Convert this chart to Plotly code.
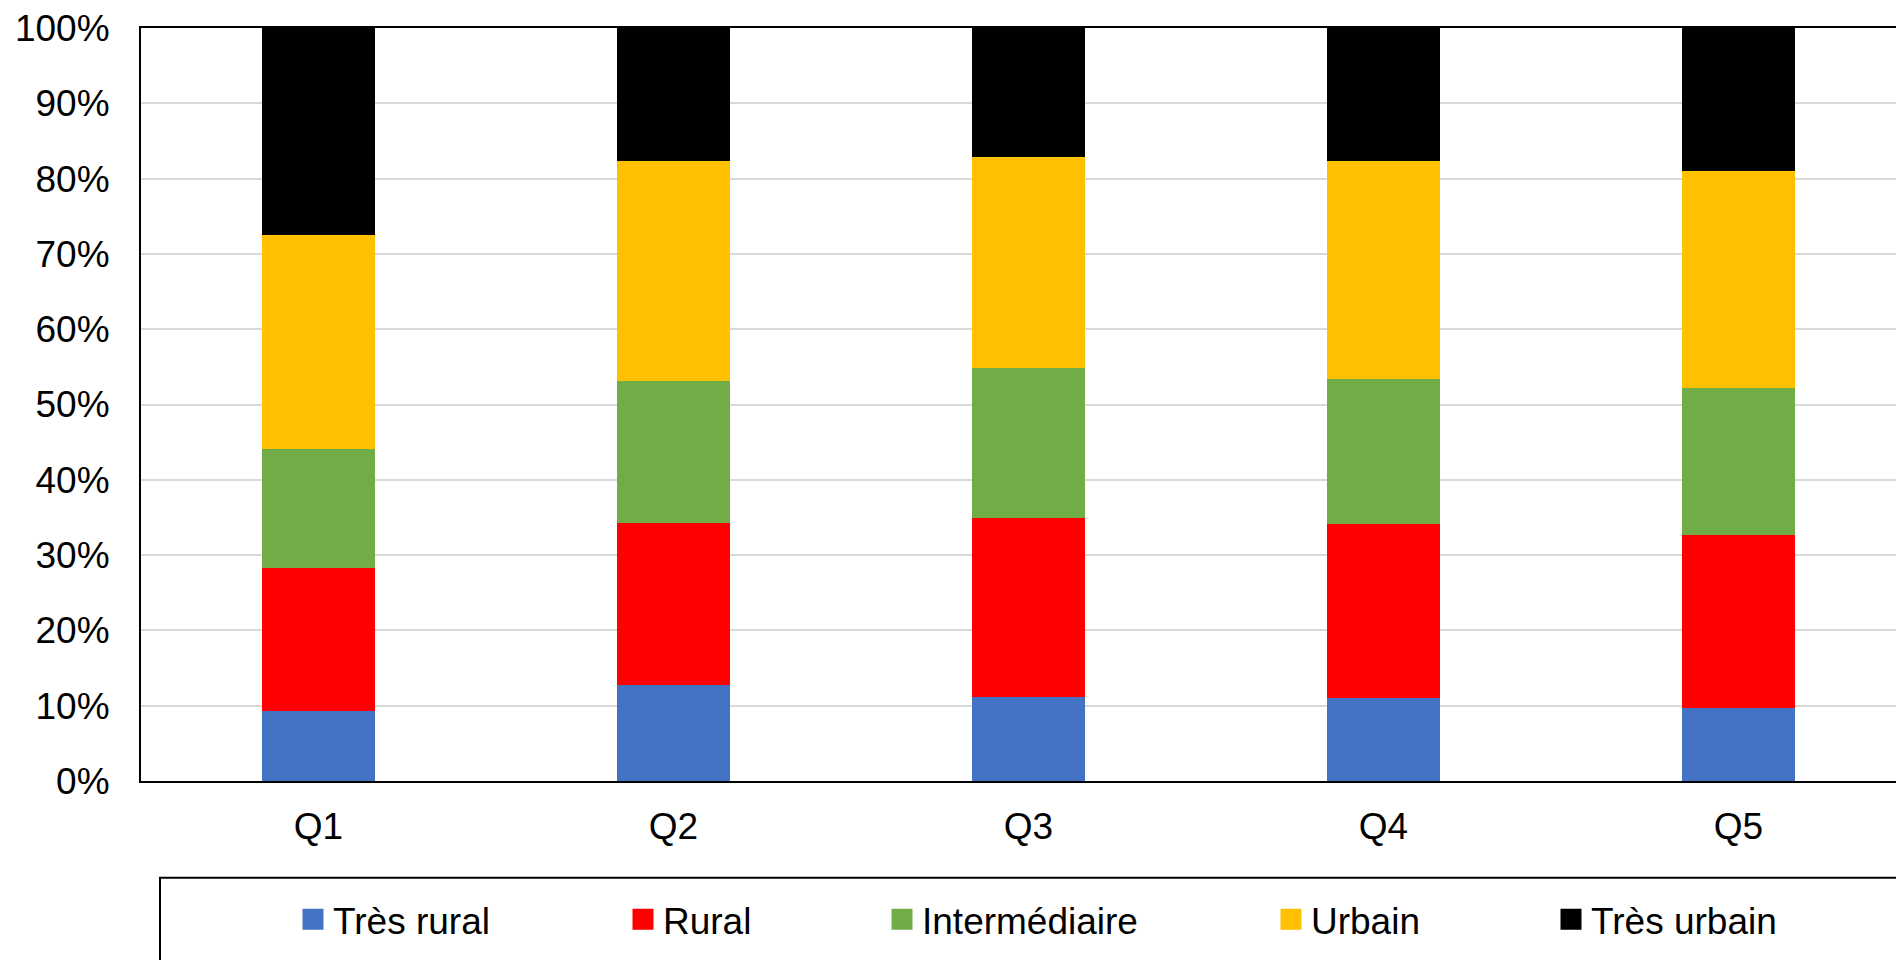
import plotly.graph_objects as go

categories = ["Q1", "Q2", "Q3", "Q4", "Q5"]
series_names = ["Très rural", "Rural", "Intermédiaire", "Urbain", "Très urbain"]
tres_rural = [9.3, 12.8, 11.1, 11.0, 9.7]
rural = [19.0, 21.5, 23.8, 23.1, 23.0]
intermediaire = [15.8, 18.8, 20.0, 19.3, 19.5]
urbain = [28.4, 29.3, 28.0, 29.0, 28.8]
tres_urbain = [27.5, 17.6, 17.1, 17.6, 19.0]
y_ticks = list(range(0, 101, 10))
y_tick_labels = [f"{v}%" for v in y_ticks]

series_values = [tres_rural, rural, intermediaire, urbain, tres_urbain]
colors = ["#4472C4", "#FF0000", "#70AD47", "#FFC000", "#000000"]

OFF = 8  # page body margin
W, H = 1904 - OFF, 960 - OFF
L, T, B = 141 - OFF, 26 - OFF, 781 - OFF
plot_w = W - L
plot_h = B - T
cat_px = 355.0
FONT = "Liberation Sans, Arial, sans-serif"
FS = 37

fig = go.Figure()
for name, vals, col in zip(series_names, series_values, colors):
    fig.add_trace(go.Bar(x=categories, y=vals, name=name, marker=dict(color=col, line=dict(width=0)),
                         width=0.318, showlegend=False))

# legend entries (one legend per entry so each sits where it does in the reference)
sym_centers = [314, 644, 903, 1292, 1572]
legend_layout = {}
for i, (name, col, cx) in enumerate(zip(series_names, colors, sym_centers)):
    key = "legend" if i == 0 else f"legend{i+1}"
    fig.add_trace(go.Scatter(x=[None], y=[None], mode="markers", name=name,
                             marker=dict(symbol="square", size=16, color=col, line=dict(color=col, width=5)),
                             legend=key, showlegend=True))
    legend_layout[key] = dict(
        x=(cx - OFF - 21 - L) / plot_w, xanchor="left",
        y=(B - (920 - OFF)) / plot_h, yanchor="middle",
        orientation="h", bgcolor="rgba(0,0,0,0)", borderwidth=0,
        font=dict(family=FONT, size=FS, color="black"),
    )

fig.update_layout(
    width=W, height=H,
    margin=dict(l=L, r=0, t=T, b=H - B, pad=0),
    barmode="stack",
    plot_bgcolor="white", paper_bgcolor="white",
    font=dict(family=FONT, size=FS, color="black"),
    xaxis=dict(range=[-0.5, -0.5 + (1904 - 141) / cat_px], showline=True, linecolor="black", linewidth=2,
               mirror=True, ticks="", showgrid=False, ticklabelstandoff=12,
               tickfont=dict(family=FONT, size=FS, color="black"), fixedrange=True),
    yaxis=dict(range=[0, 100], tickmode="array", tickvals=y_ticks, ticktext=y_tick_labels,
               showline=True, linecolor="black",
               linewidth=2, ticks="", showgrid=True, gridcolor="#D9D9D9", gridwidth=1.5,
               zeroline=False, ticklabelstandoff=22, ticklabeloverflow="allow",
               tickfont=dict(family=FONT, size=FS, color="black"), fixedrange=True),
    shapes=[dict(type="rect", xref="paper", yref="paper",
                 x0=(160 - 141) / plot_w, x1=1.2, y0=(B - (878 - OFF)) / plot_h, y1=(B - 1100) / plot_h,
                 line=dict(color="black", width=2), fillcolor="rgba(0,0,0,0)")],
    **legend_layout,
)

fig.write_html("out.html")
